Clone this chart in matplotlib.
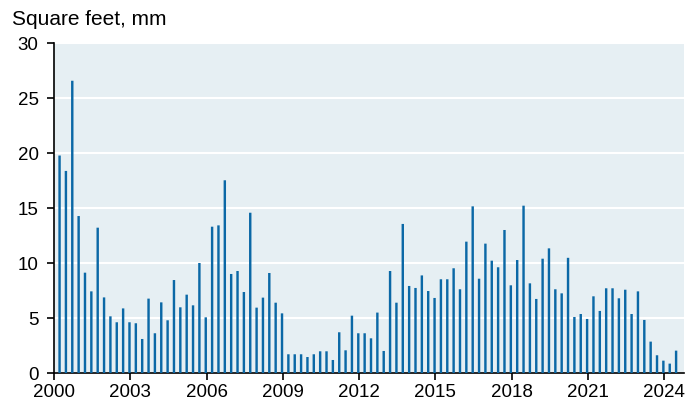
import numpy as np
import matplotlib
matplotlib.use("Agg")
import matplotlib.pyplot as plt

plt.rcParams['font.family'] = ['Liberation Sans', 'DejaVu Sans']

# quarterly values, Q1 2000 .. Q2 2024 (square feet, mm)
values = [
    19.8, 18.4, 26.6, 14.3, 9.15, 7.45, 13.24, 6.9,      # 2000-2001
    5.18, 4.64, 5.9, 4.64, 4.55, 3.12, 6.79, 3.64,       # 2002-2003
    6.45, 4.82, 8.48, 6.0, 7.15, 6.18, 10.03, 5.09,      # 2004-2005
    13.33, 13.45, 17.55, 9.03, 9.3, 7.39, 14.6, 5.97,    # 2006-2007
    6.88, 9.12, 6.42, 5.45, 1.73, 1.73, 1.73, 1.48,      # 2008-2009
    1.73, 2.0, 2.0, 1.21, 3.73, 2.09, 5.24, 3.64,        # 2010-2011
    3.64, 3.18, 5.52, 2.03, 9.3, 6.42, 13.58, 7.94,      # 2012-2013
    7.76, 8.9, 7.48, 6.85, 8.55, 8.55, 9.55, 7.64,       # 2014-2015
    11.97, 15.18, 8.6, 11.79, 10.24, 9.64, 13.03, 8.0,   # 2016-2017
    10.3, 15.24, 8.18, 6.76, 10.42, 11.36, 7.64, 7.27,   # 2018-2019
    10.5, 5.12, 5.39, 4.94, 7.0, 5.67, 7.73, 7.73,       # 2020-2021
    6.82, 7.6, 5.39, 7.45, 4.85, 2.88, 1.64, 1.15,       # 2022-2023
    0.88, 2.06,                                          # 2024
]
start_year = 2000
xticks = [2000, 2003, 2006, 2009, 2012, 2015, 2018, 2021, 2024]
yticks = [0, 5, 10, 15, 20, 25, 30]

x = start_year + 0.22 + 0.25 * np.arange(len(values))

fig = plt.figure(figsize=(7, 4.09), dpi=100)
ax = fig.add_axes([0.0771, 0.0873, 0.9, 0.8067])
ax.set_facecolor('#e6eff3')

bars = ax.bar(x, values, width=0.095, color='#0b68a6', zorder=3)
for b in bars:
    b.set_snap(False)

ax.set_xlim(2000, 2024.78)
ax.set_ylim(0, 30)
ax.set_xticks(xticks)
ax.set_yticks(yticks)
ax.yaxis.grid(True, color='white', linewidth=1.5, zorder=1)
ax.set_axisbelow(True)

for s in ['top', 'right']:
    ax.spines[s].set_visible(False)
for s in ['left', 'bottom']:
    ax.spines[s].set_color('black')
    ax.spines[s].set_linewidth(1.2)

ax.tick_params(axis='y', length=5, width=1.2, pad=6, labelsize=13.5)
ax.tick_params(axis='x', length=5, width=1.2, pad=3, labelsize=13.5)

fig.text(0.017, 0.952, 'Square feet, mm', fontsize=15, ha='left', va='center')

fig.savefig('out.png', dpi=100)
